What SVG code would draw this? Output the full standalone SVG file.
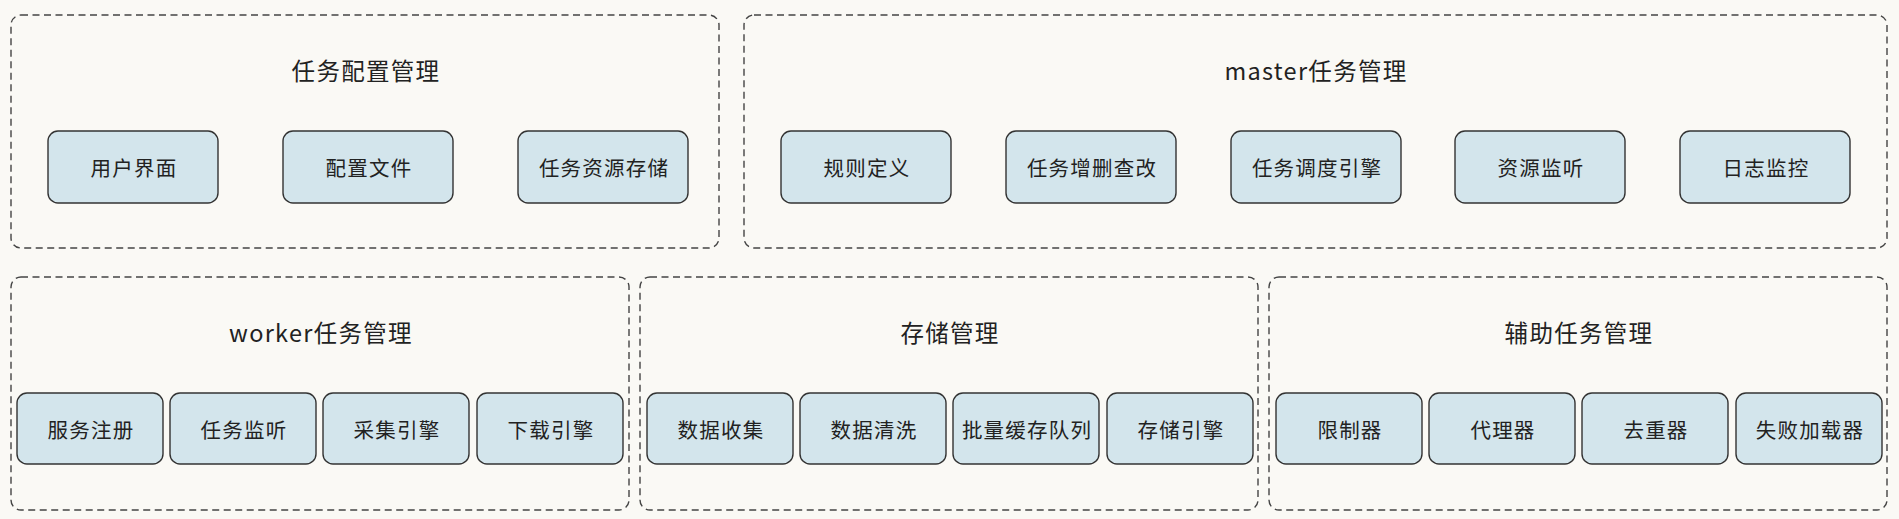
<svg xmlns="http://www.w3.org/2000/svg" width="1899" height="519" viewBox="0 0 1899 519">
<style>
.bg{fill:#FAF9F5}
.grp{fill:#FAF9F5;stroke:#444;stroke-width:1.4;stroke-dasharray:7 4.5}
.node{fill:#D3E5EC;stroke:#333;stroke-width:1.4}
.title{font-family:"Noto Sans CJK SC","Noto Sans",sans-serif;font-size:23.5px;fill:#222;text-anchor:middle;dominant-baseline:central;letter-spacing:1.3px}
.lbl{font-family:"Noto Sans CJK SC","Noto Sans",sans-serif;font-size:20.5px;fill:#222;text-anchor:middle;dominant-baseline:central;letter-spacing:1.2px}
</style>
<rect class="bg" x="0" y="0" width="1899" height="519"/>
<g id="grp-config">
<rect class="grp" x="11" y="15" width="708" height="233" rx="10"/>
<text class="title" x="366" y="70">任务配置管理</text>
</g>
<g id="n-ui"><rect class="node" x="48" y="131" width="170" height="72" rx="10"/><text class="lbl" x="134" y="167">用户界面</text></g>
<g id="n-cfgfile"><rect class="node" x="283" y="131" width="170" height="72" rx="10"/><text class="lbl" x="369" y="167">配置文件</text></g>
<g id="n-resstore"><rect class="node" x="518" y="131" width="170" height="72" rx="10"/><text class="lbl" x="604" y="167">任务资源存储</text></g>

<g id="grp-master">
<rect class="grp" x="744" y="15" width="1143" height="233" rx="10"/>
<text class="title" x="1316" y="70">master任务管理</text>
</g>
<g id="n-rule"><rect class="node" x="781" y="131" width="170" height="72" rx="10"/><text class="lbl" x="867" y="167">规则定义</text></g>
<g id="n-crud"><rect class="node" x="1006" y="131" width="170" height="72" rx="10"/><text class="lbl" x="1092" y="167">任务增删查改</text></g>
<g id="n-sched"><rect class="node" x="1231" y="131" width="170" height="72" rx="10"/><text class="lbl" x="1317" y="167">任务调度引擎</text></g>
<g id="n-resmon"><rect class="node" x="1455" y="131" width="170" height="72" rx="10"/><text class="lbl" x="1541" y="167">资源监听</text></g>
<g id="n-logmon"><rect class="node" x="1680" y="131" width="170" height="72" rx="10"/><text class="lbl" x="1766" y="167">日志监控</text></g>

<g id="grp-worker">
<rect class="grp" x="11" y="277" width="618" height="233" rx="10"/>
<text class="title" x="321" y="332">worker任务管理</text>
</g>
<g id="n-svcreg"><rect class="node" x="17" y="393" width="146" height="71" rx="10"/><text class="lbl" x="91" y="428.5">服务注册</text></g>
<g id="n-tasklisten"><rect class="node" x="170" y="393" width="146" height="71" rx="10"/><text class="lbl" x="244" y="428.5">任务监听</text></g>
<g id="n-crawl"><rect class="node" x="323" y="393" width="146" height="71" rx="10"/><text class="lbl" x="397" y="428.5">采集引擎</text></g>
<g id="n-download"><rect class="node" x="477" y="393" width="146" height="71" rx="10"/><text class="lbl" x="551" y="428.5">下载引擎</text></g>

<g id="grp-storage">
<rect class="grp" x="640" y="277" width="618" height="233" rx="10"/>
<text class="title" x="950" y="332">存储管理</text>
</g>
<g id="n-collect"><rect class="node" x="647" y="393" width="146" height="71" rx="10"/><text class="lbl" x="721" y="428.5">数据收集</text></g>
<g id="n-clean"><rect class="node" x="800" y="393" width="146" height="71" rx="10"/><text class="lbl" x="874" y="428.5">数据清洗</text></g>
<g id="n-queue"><rect class="node" x="953" y="393" width="146" height="71" rx="10"/><text class="lbl" x="1027" y="428.5">批量缓存队列</text></g>
<g id="n-storeeng"><rect class="node" x="1107" y="393" width="146" height="71" rx="10"/><text class="lbl" x="1181" y="428.5">存储引擎</text></g>

<g id="grp-aux">
<rect class="grp" x="1269" y="277" width="618" height="233" rx="10"/>
<text class="title" x="1579" y="332">辅助任务管理</text>
</g>
<g id="n-limiter"><rect class="node" x="1276" y="393" width="146" height="71" rx="10"/><text class="lbl" x="1350" y="428.5">限制器</text></g>
<g id="n-proxy"><rect class="node" x="1429" y="393" width="146" height="71" rx="10"/><text class="lbl" x="1503" y="428.5">代理器</text></g>
<g id="n-dedup"><rect class="node" x="1582" y="393" width="146" height="71" rx="10"/><text class="lbl" x="1656" y="428.5">去重器</text></g>
<g id="n-retry"><rect class="node" x="1736" y="393" width="146" height="71" rx="10"/><text class="lbl" x="1810" y="428.5">失败加载器</text></g>

<g id="connectors"></g>
</svg>
